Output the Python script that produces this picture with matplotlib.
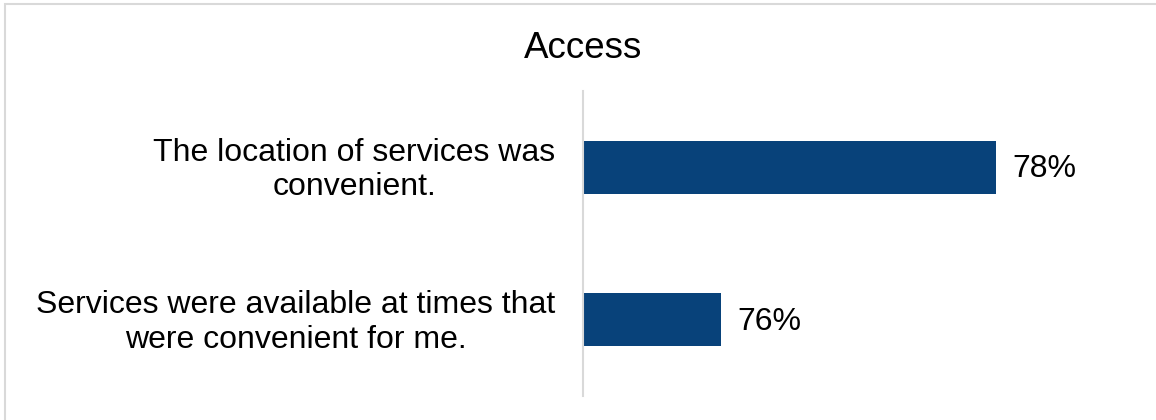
import matplotlib.pyplot as plt
from matplotlib.patches import Rectangle

# Survey results for the "Access" domain
statements = [
    'The location of services was\nconvenient.',
    'Services were available at times that\nwere convenient for me.',
]
percent_agree = [78, 76]

bar_color = '#08427a'
grid_gray = '#d9d9d9'

plt.rcParams['font.family'] = ['Liberation Sans', 'DejaVu Sans']

fig = plt.figure(figsize=(11.56, 4.2), dpi=100)
ax = fig.add_axes([583 / 1156, 24 / 420, 550 / 1156, 305 / 420])

ypos = list(range(len(statements)))
ax.barh(ypos, percent_agree, height=0.35, color=bar_color, left=0)
ax.set_xlim(75, 79)
ax.set_ylim(len(statements) - 0.5, -0.5)

for y, v in zip(ypos, percent_agree):
    ax.annotate(f'{v}%', xy=(v, y), xytext=(12, -1.5), textcoords='offset points',
                ha='left', va='center', fontsize=23, color='black')

for y, label in zip(ypos, statements):
    ax.annotate(label, xy=(75, y), xytext=(-20, -2), textcoords='offset points',
                ha='right', va='center', multialignment='center',
                fontsize=23, color='black', linespacing=1.2)

ax.set_xticks([])
ax.set_yticks([])
for side in ['top', 'right', 'bottom']:
    ax.spines[side].set_visible(False)
ax.spines['left'].set_color(grid_gray)
ax.spines['left'].set_linewidth(1.5)

fig.text(583 / 1156, 1 - 48 / 420, 'Access', ha='center', va='center',
         fontsize=26.5, color='black')

# light chart border (only top and left edges fall inside the canvas)
fig.add_artist(Rectangle((4.5 / 1156, -0.1), 1.2, 1.1 - 4.5 / 420,
                         transform=fig.transFigure, fill=False,
                         edgecolor=grid_gray, linewidth=1.5))

fig.savefig('out.png', dpi=100)
